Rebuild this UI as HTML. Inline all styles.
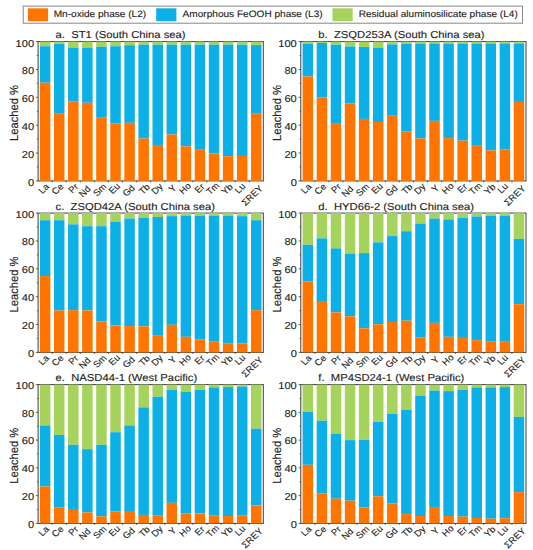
<!DOCTYPE html>
<html><head><meta charset="utf-8"><title>chart</title>
<style>
html,body{margin:0;padding:0;background:#fff;}
svg{display:block;}
text{font-family:"Liberation Sans",sans-serif;font-size:10.4px;fill:#222;stroke:#222;stroke-width:0.12px;text-rendering:geometricPrecision;}
</style></head><body>
<svg width="533" height="550" viewBox="0 0 533 550">
<rect width="533" height="550" fill="#fff"/>
<rect x="23.2" y="6.1" width="499.3" height="17.1" fill="#fff" stroke="#888" stroke-width="1"/>
<rect x="27.9" y="8.3" width="20.2" height="12.9" fill="#FF7500"/>
<text transform="translate(53.70,17.20) scale(1.075,1)" text-anchor="start" style="font-size:9.4px" id="leg27">Mn-oxide phase (L2)</text>
<rect x="156.2" y="8.3" width="20.2" height="12.9" fill="#0DB0E6"/>
<text transform="translate(182.60,17.20) scale(1.075,1)" text-anchor="start" style="font-size:9.4px" id="leg156">Amorphous FeOOH phase (L3)</text>
<rect x="332.5" y="8.3" width="20.2" height="12.9" fill="#A6D35C"/>
<text transform="translate(358.70,17.20) scale(1.075,1)" text-anchor="start" style="font-size:9.4px" id="leg332">Residual aluminosilicate phase (L4)</text>
<g><rect x="38.1" y="41.6" width="225.2" height="139.3" fill="none" stroke="#3c3c3c" stroke-width="1"/><rect x="39.89" y="41.60" width="10.5" height="4.60" fill="#A6D35C"/><rect x="39.89" y="46.20" width="10.5" height="36.50" fill="#0DB0E6"/><rect x="39.89" y="82.69" width="10.5" height="98.21" fill="#FF7500"/><text transform="translate(49.64,187.10) scale(1.06,1) rotate(-45)" text-anchor="end" style="font-size:9.0px" >La</text><rect x="53.96" y="41.60" width="10.5" height="2.23" fill="#A6D35C"/><rect x="53.96" y="43.83" width="10.5" height="69.93" fill="#0DB0E6"/><rect x="53.96" y="113.76" width="10.5" height="67.14" fill="#FF7500"/><text transform="translate(64.21,187.10) scale(1.06,1) rotate(-45)" text-anchor="end" style="font-size:9.0px" >Ce</text><rect x="68.04" y="41.60" width="10.5" height="5.99" fill="#A6D35C"/><rect x="68.04" y="47.59" width="10.5" height="54.05" fill="#0DB0E6"/><rect x="68.04" y="101.64" width="10.5" height="79.26" fill="#FF7500"/><text transform="translate(78.99,187.50) scale(1.06,1) rotate(-45)" text-anchor="end" style="font-size:9.0px" >Pr</text><rect x="82.11" y="41.60" width="10.5" height="5.99" fill="#A6D35C"/><rect x="82.11" y="47.59" width="10.5" height="55.16" fill="#0DB0E6"/><rect x="82.11" y="102.75" width="10.5" height="78.15" fill="#FF7500"/><text transform="translate(91.36,189.50) scale(1.06,1) rotate(-45)" text-anchor="end" style="font-size:9.0px" >Nd</text><rect x="96.19" y="41.60" width="10.5" height="5.15" fill="#A6D35C"/><rect x="96.19" y="46.75" width="10.5" height="71.04" fill="#0DB0E6"/><rect x="96.19" y="117.80" width="10.5" height="63.10" fill="#FF7500"/><text transform="translate(107.14,187.10) scale(1.06,1) rotate(-45)" text-anchor="end" style="font-size:9.0px" >Sm</text><rect x="110.26" y="41.60" width="10.5" height="4.60" fill="#A6D35C"/><rect x="110.26" y="46.20" width="10.5" height="77.45" fill="#0DB0E6"/><rect x="110.26" y="123.65" width="10.5" height="57.25" fill="#FF7500"/><text transform="translate(120.71,186.60) scale(1.06,1) rotate(-45)" text-anchor="end" style="font-size:9.0px" >Eu</text><rect x="124.34" y="41.60" width="10.5" height="3.62" fill="#A6D35C"/><rect x="124.34" y="45.22" width="10.5" height="77.59" fill="#0DB0E6"/><rect x="124.34" y="122.81" width="10.5" height="58.09" fill="#FF7500"/><text transform="translate(135.59,188.60) scale(1.06,1) rotate(-45)" text-anchor="end" style="font-size:9.0px" >Gd</text><rect x="138.41" y="41.60" width="10.5" height="3.06" fill="#A6D35C"/><rect x="138.41" y="44.66" width="10.5" height="93.75" fill="#0DB0E6"/><rect x="138.41" y="138.41" width="10.5" height="42.49" fill="#FF7500"/><text transform="translate(150.56,187.50) scale(1.06,1) rotate(-45)" text-anchor="end" style="font-size:9.0px" >Tb</text><rect x="152.49" y="41.60" width="10.5" height="3.06" fill="#A6D35C"/><rect x="152.49" y="44.66" width="10.5" height="100.30" fill="#0DB0E6"/><rect x="152.49" y="144.96" width="10.5" height="35.94" fill="#FF7500"/><text transform="translate(163.44,187.10) scale(1.06,1) rotate(-45)" text-anchor="end" style="font-size:9.0px" >Dy</text><rect x="166.56" y="41.60" width="10.5" height="3.06" fill="#A6D35C"/><rect x="166.56" y="44.66" width="10.5" height="89.85" fill="#0DB0E6"/><rect x="166.56" y="134.51" width="10.5" height="46.39" fill="#FF7500"/><text transform="translate(177.01,188.60) scale(1.06,1) rotate(-45)" text-anchor="end" style="font-size:9.0px" >Y</text><rect x="180.64" y="41.60" width="10.5" height="3.06" fill="#A6D35C"/><rect x="180.64" y="44.66" width="10.5" height="101.69" fill="#0DB0E6"/><rect x="180.64" y="146.35" width="10.5" height="34.55" fill="#FF7500"/><text transform="translate(191.69,186.50) scale(1.06,1) rotate(-45)" text-anchor="end" style="font-size:9.0px" >Ho</text><rect x="194.71" y="41.60" width="10.5" height="3.06" fill="#A6D35C"/><rect x="194.71" y="44.66" width="10.5" height="104.47" fill="#0DB0E6"/><rect x="194.71" y="149.14" width="10.5" height="31.76" fill="#FF7500"/><text transform="translate(205.26,187.40) scale(1.06,1) rotate(-45)" text-anchor="end" style="font-size:9.0px" >Er</text><rect x="208.79" y="41.60" width="10.5" height="3.06" fill="#A6D35C"/><rect x="208.79" y="44.66" width="10.5" height="108.79" fill="#0DB0E6"/><rect x="208.79" y="153.46" width="10.5" height="27.44" fill="#FF7500"/><text transform="translate(219.84,186.10) scale(1.06,1) rotate(-45)" text-anchor="end" style="font-size:9.0px" >Tm</text><rect x="222.86" y="41.60" width="10.5" height="3.06" fill="#A6D35C"/><rect x="222.86" y="44.66" width="10.5" height="111.58" fill="#0DB0E6"/><rect x="222.86" y="156.24" width="10.5" height="24.66" fill="#FF7500"/><text transform="translate(233.61,187.50) scale(1.06,1) rotate(-45)" text-anchor="end" style="font-size:9.0px" >Yb</text><rect x="236.94" y="41.60" width="10.5" height="3.06" fill="#A6D35C"/><rect x="236.94" y="44.66" width="10.5" height="111.30" fill="#0DB0E6"/><rect x="236.94" y="155.97" width="10.5" height="24.93" fill="#FF7500"/><text transform="translate(245.99,186.80) scale(1.06,1) rotate(-45)" text-anchor="end" style="font-size:9.0px" >Lu</text><rect x="251.01" y="41.60" width="10.5" height="3.48" fill="#A6D35C"/><rect x="251.01" y="45.08" width="10.5" height="68.67" fill="#0DB0E6"/><rect x="251.01" y="113.76" width="10.5" height="67.14" fill="#FF7500"/><text transform="translate(263.46,189.10) scale(1.06,1) rotate(-45)" text-anchor="end" style="font-size:9.0px" >ΣREY</text><text transform="translate(34.10,185.80) scale(1.11,1)" text-anchor="end" style="font-size:10.0px" >0</text><text transform="translate(34.10,157.94) scale(1.11,1)" text-anchor="end" style="font-size:10.0px" >20</text><text transform="translate(34.10,130.08) scale(1.11,1)" text-anchor="end" style="font-size:10.0px" >40</text><text transform="translate(34.10,102.22) scale(1.11,1)" text-anchor="end" style="font-size:10.0px" >60</text><text transform="translate(34.10,74.36) scale(1.11,1)" text-anchor="end" style="font-size:10.0px" >80</text><text transform="translate(34.10,46.50) scale(1.11,1)" text-anchor="end" style="font-size:10.0px" >100</text><path d="M35.90,180.90H38.1 M36.90,166.97H38.1 M35.90,153.04H38.1 M36.90,139.11H38.1 M35.90,125.18H38.1 M36.90,111.25H38.1 M35.90,97.32H38.1 M36.90,83.39H38.1 M35.90,69.46H38.1 M36.90,55.53H38.1 M35.90,41.60H38.1 M52.17,180.9v1.5 M66.25,180.9v1.5 M80.32,180.9v1.5 M94.40,180.9v1.5 M108.47,180.9v1.5 M122.55,180.9v1.5 M136.62,180.9v1.5 M150.70,180.9v1.5 M164.78,180.9v1.5 M178.85,180.9v1.5 M192.92,180.9v1.5 M207.00,180.9v1.5 M221.07,180.9v1.5 M235.15,180.9v1.5 M249.22,180.9v1.5" stroke="#3c3c3c" stroke-width="0.8" fill="none"/><text transform="translate(55.60,38.10) scale(1.114,1)" text-anchor="start" style="font-size:10.1px" id="ta" xml:space="preserve">a.  ST1 (South China sea)</text><text transform="translate(18.20,113.05) scale(1.06,1) rotate(-90)" text-anchor="middle" style="font-size:11.2px" >Leached %</text></g>
<g><rect x="300.8" y="41.6" width="225.2" height="139.3" fill="none" stroke="#3c3c3c" stroke-width="1"/><rect x="302.59" y="41.60" width="10.5" height="1.95" fill="#A6D35C"/><rect x="302.59" y="43.55" width="10.5" height="32.87" fill="#0DB0E6"/><rect x="302.59" y="76.43" width="10.5" height="104.47" fill="#FF7500"/><text transform="translate(312.34,187.10) scale(1.06,1) rotate(-45)" text-anchor="end" style="font-size:9.0px" >La</text><rect x="316.66" y="41.60" width="10.5" height="1.39" fill="#A6D35C"/><rect x="316.66" y="42.99" width="10.5" height="54.33" fill="#0DB0E6"/><rect x="316.66" y="97.32" width="10.5" height="83.58" fill="#FF7500"/><text transform="translate(326.91,187.10) scale(1.06,1) rotate(-45)" text-anchor="end" style="font-size:9.0px" >Ce</text><rect x="330.74" y="41.60" width="10.5" height="3.06" fill="#A6D35C"/><rect x="330.74" y="44.66" width="10.5" height="78.43" fill="#0DB0E6"/><rect x="330.74" y="123.09" width="10.5" height="57.81" fill="#FF7500"/><text transform="translate(341.69,187.50) scale(1.06,1) rotate(-45)" text-anchor="end" style="font-size:9.0px" >Pr</text><rect x="344.81" y="41.60" width="10.5" height="4.88" fill="#A6D35C"/><rect x="344.81" y="46.48" width="10.5" height="57.11" fill="#0DB0E6"/><rect x="344.81" y="103.59" width="10.5" height="77.31" fill="#FF7500"/><text transform="translate(354.06,189.50) scale(1.06,1) rotate(-45)" text-anchor="end" style="font-size:9.0px" >Nd</text><rect x="358.89" y="41.60" width="10.5" height="5.43" fill="#A6D35C"/><rect x="358.89" y="47.03" width="10.5" height="71.88" fill="#0DB0E6"/><rect x="358.89" y="118.91" width="10.5" height="61.99" fill="#FF7500"/><text transform="translate(369.84,187.10) scale(1.06,1) rotate(-45)" text-anchor="end" style="font-size:9.0px" >Sm</text><rect x="372.96" y="41.60" width="10.5" height="5.99" fill="#A6D35C"/><rect x="372.96" y="47.59" width="10.5" height="74.39" fill="#0DB0E6"/><rect x="372.96" y="121.98" width="10.5" height="58.92" fill="#FF7500"/><text transform="translate(383.41,186.60) scale(1.06,1) rotate(-45)" text-anchor="end" style="font-size:9.0px" >Eu</text><rect x="387.04" y="41.60" width="10.5" height="2.79" fill="#A6D35C"/><rect x="387.04" y="44.39" width="10.5" height="70.76" fill="#0DB0E6"/><rect x="387.04" y="115.15" width="10.5" height="65.75" fill="#FF7500"/><text transform="translate(398.29,188.60) scale(1.06,1) rotate(-45)" text-anchor="end" style="font-size:9.0px" >Gd</text><rect x="401.11" y="41.60" width="10.5" height="2.23" fill="#A6D35C"/><rect x="401.11" y="43.83" width="10.5" height="87.76" fill="#0DB0E6"/><rect x="401.11" y="131.59" width="10.5" height="49.31" fill="#FF7500"/><text transform="translate(413.26,187.50) scale(1.06,1) rotate(-45)" text-anchor="end" style="font-size:9.0px" >Tb</text><rect x="415.19" y="41.60" width="10.5" height="1.95" fill="#A6D35C"/><rect x="415.19" y="43.55" width="10.5" height="94.86" fill="#0DB0E6"/><rect x="415.19" y="138.41" width="10.5" height="42.49" fill="#FF7500"/><text transform="translate(426.14,187.10) scale(1.06,1) rotate(-45)" text-anchor="end" style="font-size:9.0px" >Dy</text><rect x="429.26" y="41.60" width="10.5" height="1.95" fill="#A6D35C"/><rect x="429.26" y="43.55" width="10.5" height="77.31" fill="#0DB0E6"/><rect x="429.26" y="120.86" width="10.5" height="60.04" fill="#FF7500"/><text transform="translate(439.71,188.60) scale(1.06,1) rotate(-45)" text-anchor="end" style="font-size:9.0px" >Y</text><rect x="443.34" y="41.60" width="10.5" height="1.95" fill="#A6D35C"/><rect x="443.34" y="43.55" width="10.5" height="94.58" fill="#0DB0E6"/><rect x="443.34" y="138.13" width="10.5" height="42.77" fill="#FF7500"/><text transform="translate(454.39,186.50) scale(1.06,1) rotate(-45)" text-anchor="end" style="font-size:9.0px" >Ho</text><rect x="457.41" y="41.60" width="10.5" height="1.95" fill="#A6D35C"/><rect x="457.41" y="43.55" width="10.5" height="97.09" fill="#0DB0E6"/><rect x="457.41" y="140.64" width="10.5" height="40.26" fill="#FF7500"/><text transform="translate(467.96,187.40) scale(1.06,1) rotate(-45)" text-anchor="end" style="font-size:9.0px" >Er</text><rect x="471.49" y="41.60" width="10.5" height="1.95" fill="#A6D35C"/><rect x="471.49" y="43.55" width="10.5" height="102.25" fill="#0DB0E6"/><rect x="471.49" y="145.80" width="10.5" height="35.10" fill="#FF7500"/><text transform="translate(482.54,186.10) scale(1.06,1) rotate(-45)" text-anchor="end" style="font-size:9.0px" >Tm</text><rect x="485.56" y="41.60" width="10.5" height="1.95" fill="#A6D35C"/><rect x="485.56" y="43.55" width="10.5" height="106.84" fill="#0DB0E6"/><rect x="485.56" y="150.39" width="10.5" height="30.51" fill="#FF7500"/><text transform="translate(496.31,187.50) scale(1.06,1) rotate(-45)" text-anchor="end" style="font-size:9.0px" >Yb</text><rect x="499.64" y="41.60" width="10.5" height="1.95" fill="#A6D35C"/><rect x="499.64" y="43.55" width="10.5" height="106.15" fill="#0DB0E6"/><rect x="499.64" y="149.70" width="10.5" height="31.20" fill="#FF7500"/><text transform="translate(508.69,186.80) scale(1.06,1) rotate(-45)" text-anchor="end" style="font-size:9.0px" >Lu</text><rect x="513.71" y="41.60" width="10.5" height="1.95" fill="#A6D35C"/><rect x="513.71" y="43.55" width="10.5" height="58.37" fill="#0DB0E6"/><rect x="513.71" y="101.92" width="10.5" height="78.98" fill="#FF7500"/><text transform="translate(526.16,189.10) scale(1.06,1) rotate(-45)" text-anchor="end" style="font-size:9.0px" >ΣREY</text><text transform="translate(296.80,185.80) scale(1.11,1)" text-anchor="end" style="font-size:10.0px" >0</text><text transform="translate(296.80,157.94) scale(1.11,1)" text-anchor="end" style="font-size:10.0px" >20</text><text transform="translate(296.80,130.08) scale(1.11,1)" text-anchor="end" style="font-size:10.0px" >40</text><text transform="translate(296.80,102.22) scale(1.11,1)" text-anchor="end" style="font-size:10.0px" >60</text><text transform="translate(296.80,74.36) scale(1.11,1)" text-anchor="end" style="font-size:10.0px" >80</text><text transform="translate(296.80,46.50) scale(1.11,1)" text-anchor="end" style="font-size:10.0px" >100</text><path d="M298.60,180.90H300.8 M299.60,166.97H300.8 M298.60,153.04H300.8 M299.60,139.11H300.8 M298.60,125.18H300.8 M299.60,111.25H300.8 M298.60,97.32H300.8 M299.60,83.39H300.8 M298.60,69.46H300.8 M299.60,55.53H300.8 M298.60,41.60H300.8 M314.88,180.9v1.5 M328.95,180.9v1.5 M343.02,180.9v1.5 M357.10,180.9v1.5 M371.18,180.9v1.5 M385.25,180.9v1.5 M399.32,180.9v1.5 M413.40,180.9v1.5 M427.48,180.9v1.5 M441.55,180.9v1.5 M455.62,180.9v1.5 M469.70,180.9v1.5 M483.77,180.9v1.5 M497.85,180.9v1.5 M511.93,180.9v1.5" stroke="#3c3c3c" stroke-width="0.8" fill="none"/><text transform="translate(318.30,38.10) scale(1.114,1)" text-anchor="start" style="font-size:10.1px" id="tb" xml:space="preserve">b.  ZSQD253A (South China sea)</text><text transform="translate(280.90,113.05) scale(1.06,1) rotate(-90)" text-anchor="middle" style="font-size:11.2px" >Leached %</text></g>
<g><rect x="38.1" y="213.1" width="225.2" height="139.3" fill="none" stroke="#3c3c3c" stroke-width="1"/><rect x="39.89" y="213.10" width="10.5" height="7.10" fill="#A6D35C"/><rect x="39.89" y="220.20" width="10.5" height="55.86" fill="#0DB0E6"/><rect x="39.89" y="276.06" width="10.5" height="76.34" fill="#FF7500"/><text transform="translate(49.64,358.60) scale(1.06,1) rotate(-45)" text-anchor="end" style="font-size:9.0px" >La</text><rect x="53.96" y="213.10" width="10.5" height="7.10" fill="#A6D35C"/><rect x="53.96" y="220.20" width="10.5" height="90.27" fill="#0DB0E6"/><rect x="53.96" y="310.47" width="10.5" height="41.93" fill="#FF7500"/><text transform="translate(64.21,358.60) scale(1.06,1) rotate(-45)" text-anchor="end" style="font-size:9.0px" >Ce</text><rect x="68.04" y="213.10" width="10.5" height="11.28" fill="#A6D35C"/><rect x="68.04" y="224.38" width="10.5" height="85.81" fill="#0DB0E6"/><rect x="68.04" y="310.19" width="10.5" height="42.21" fill="#FF7500"/><text transform="translate(78.99,359.00) scale(1.06,1) rotate(-45)" text-anchor="end" style="font-size:9.0px" >Pr</text><rect x="82.11" y="213.10" width="10.5" height="13.09" fill="#A6D35C"/><rect x="82.11" y="226.19" width="10.5" height="84.28" fill="#0DB0E6"/><rect x="82.11" y="310.47" width="10.5" height="41.93" fill="#FF7500"/><text transform="translate(91.36,361.00) scale(1.06,1) rotate(-45)" text-anchor="end" style="font-size:9.0px" >Nd</text><rect x="96.19" y="213.10" width="10.5" height="13.09" fill="#A6D35C"/><rect x="96.19" y="226.19" width="10.5" height="95.28" fill="#0DB0E6"/><rect x="96.19" y="321.48" width="10.5" height="30.92" fill="#FF7500"/><text transform="translate(107.14,358.60) scale(1.06,1) rotate(-45)" text-anchor="end" style="font-size:9.0px" >Sm</text><rect x="110.26" y="213.10" width="10.5" height="8.50" fill="#A6D35C"/><rect x="110.26" y="221.60" width="10.5" height="103.92" fill="#0DB0E6"/><rect x="110.26" y="325.52" width="10.5" height="26.88" fill="#FF7500"/><text transform="translate(120.71,358.10) scale(1.06,1) rotate(-45)" text-anchor="end" style="font-size:9.0px" >Eu</text><rect x="124.34" y="213.10" width="10.5" height="5.43" fill="#A6D35C"/><rect x="124.34" y="218.53" width="10.5" height="107.54" fill="#0DB0E6"/><rect x="124.34" y="326.07" width="10.5" height="26.33" fill="#FF7500"/><text transform="translate(135.59,360.10) scale(1.06,1) rotate(-45)" text-anchor="end" style="font-size:9.0px" >Gd</text><rect x="138.41" y="213.10" width="10.5" height="4.60" fill="#A6D35C"/><rect x="138.41" y="217.70" width="10.5" height="108.65" fill="#0DB0E6"/><rect x="138.41" y="326.35" width="10.5" height="26.05" fill="#FF7500"/><text transform="translate(150.56,359.00) scale(1.06,1) rotate(-45)" text-anchor="end" style="font-size:9.0px" >Tb</text><rect x="152.49" y="213.10" width="10.5" height="3.90" fill="#A6D35C"/><rect x="152.49" y="217.00" width="10.5" height="118.13" fill="#0DB0E6"/><rect x="152.49" y="335.13" width="10.5" height="17.27" fill="#FF7500"/><text transform="translate(163.44,358.60) scale(1.06,1) rotate(-45)" text-anchor="end" style="font-size:9.0px" >Dy</text><rect x="166.56" y="213.10" width="10.5" height="3.06" fill="#A6D35C"/><rect x="166.56" y="216.16" width="10.5" height="108.65" fill="#0DB0E6"/><rect x="166.56" y="324.82" width="10.5" height="27.58" fill="#FF7500"/><text transform="translate(177.01,360.10) scale(1.06,1) rotate(-45)" text-anchor="end" style="font-size:9.0px" >Y</text><rect x="180.64" y="213.10" width="10.5" height="2.51" fill="#A6D35C"/><rect x="180.64" y="215.61" width="10.5" height="121.19" fill="#0DB0E6"/><rect x="180.64" y="336.80" width="10.5" height="15.60" fill="#FF7500"/><text transform="translate(191.69,358.00) scale(1.06,1) rotate(-45)" text-anchor="end" style="font-size:9.0px" >Ho</text><rect x="194.71" y="213.10" width="10.5" height="2.51" fill="#A6D35C"/><rect x="194.71" y="215.61" width="10.5" height="123.70" fill="#0DB0E6"/><rect x="194.71" y="339.31" width="10.5" height="13.09" fill="#FF7500"/><text transform="translate(205.26,358.90) scale(1.06,1) rotate(-45)" text-anchor="end" style="font-size:9.0px" >Er</text><rect x="208.79" y="213.10" width="10.5" height="2.51" fill="#A6D35C"/><rect x="208.79" y="215.61" width="10.5" height="126.07" fill="#0DB0E6"/><rect x="208.79" y="341.67" width="10.5" height="10.73" fill="#FF7500"/><text transform="translate(219.84,357.60) scale(1.06,1) rotate(-45)" text-anchor="end" style="font-size:9.0px" >Tm</text><rect x="222.86" y="213.10" width="10.5" height="2.51" fill="#A6D35C"/><rect x="222.86" y="215.61" width="10.5" height="128.02" fill="#0DB0E6"/><rect x="222.86" y="343.62" width="10.5" height="8.78" fill="#FF7500"/><text transform="translate(233.61,359.00) scale(1.06,1) rotate(-45)" text-anchor="end" style="font-size:9.0px" >Yb</text><rect x="236.94" y="213.10" width="10.5" height="3.06" fill="#A6D35C"/><rect x="236.94" y="216.16" width="10.5" height="127.18" fill="#0DB0E6"/><rect x="236.94" y="343.35" width="10.5" height="9.05" fill="#FF7500"/><text transform="translate(245.99,358.30) scale(1.06,1) rotate(-45)" text-anchor="end" style="font-size:9.0px" >Lu</text><rect x="251.01" y="213.10" width="10.5" height="7.10" fill="#A6D35C"/><rect x="251.01" y="220.20" width="10.5" height="89.99" fill="#0DB0E6"/><rect x="251.01" y="310.19" width="10.5" height="42.21" fill="#FF7500"/><text transform="translate(263.46,360.60) scale(1.06,1) rotate(-45)" text-anchor="end" style="font-size:9.0px" >ΣREY</text><text transform="translate(34.10,356.80) scale(1.11,1)" text-anchor="end" style="font-size:10.0px" >0</text><text transform="translate(34.10,328.94) scale(1.11,1)" text-anchor="end" style="font-size:10.0px" >20</text><text transform="translate(34.10,301.08) scale(1.11,1)" text-anchor="end" style="font-size:10.0px" >40</text><text transform="translate(34.10,273.22) scale(1.11,1)" text-anchor="end" style="font-size:10.0px" >60</text><text transform="translate(34.10,245.36) scale(1.11,1)" text-anchor="end" style="font-size:10.0px" >80</text><text transform="translate(34.10,217.50) scale(1.11,1)" text-anchor="end" style="font-size:10.0px" >100</text><path d="M35.90,352.40H38.1 M36.90,338.47H38.1 M35.90,324.54H38.1 M36.90,310.61H38.1 M35.90,296.68H38.1 M36.90,282.75H38.1 M35.90,268.82H38.1 M36.90,254.89H38.1 M35.90,240.96H38.1 M36.90,227.03H38.1 M35.90,213.10H38.1 M52.17,352.4v1.5 M66.25,352.4v1.5 M80.32,352.4v1.5 M94.40,352.4v1.5 M108.47,352.4v1.5 M122.55,352.4v1.5 M136.62,352.4v1.5 M150.70,352.4v1.5 M164.78,352.4v1.5 M178.85,352.4v1.5 M192.92,352.4v1.5 M207.00,352.4v1.5 M221.07,352.4v1.5 M235.15,352.4v1.5 M249.22,352.4v1.5" stroke="#3c3c3c" stroke-width="0.8" fill="none"/><text transform="translate(55.60,209.60) scale(1.114,1)" text-anchor="start" style="font-size:10.1px" id="tc" xml:space="preserve">c.  ZSQD42A (South China sea)</text><text transform="translate(18.20,284.55) scale(1.06,1) rotate(-90)" text-anchor="middle" style="font-size:11.2px" >Leached %</text></g>
<g><rect x="300.8" y="213.1" width="225.2" height="139.3" fill="none" stroke="#3c3c3c" stroke-width="1"/><rect x="302.59" y="213.10" width="10.5" height="31.76" fill="#A6D35C"/><rect x="302.59" y="244.86" width="10.5" height="36.64" fill="#0DB0E6"/><rect x="302.59" y="281.50" width="10.5" height="70.90" fill="#FF7500"/><text transform="translate(312.34,358.60) scale(1.06,1) rotate(-45)" text-anchor="end" style="font-size:9.0px" >La</text><rect x="316.66" y="213.10" width="10.5" height="25.21" fill="#A6D35C"/><rect x="316.66" y="238.31" width="10.5" height="62.69" fill="#0DB0E6"/><rect x="316.66" y="301.00" width="10.5" height="51.40" fill="#FF7500"/><text transform="translate(326.91,358.60) scale(1.06,1) rotate(-45)" text-anchor="end" style="font-size:9.0px" >Ce</text><rect x="330.74" y="213.10" width="10.5" height="35.24" fill="#A6D35C"/><rect x="330.74" y="248.34" width="10.5" height="64.08" fill="#0DB0E6"/><rect x="330.74" y="312.42" width="10.5" height="39.98" fill="#FF7500"/><text transform="translate(341.69,359.00) scale(1.06,1) rotate(-45)" text-anchor="end" style="font-size:9.0px" >Pr</text><rect x="344.81" y="213.10" width="10.5" height="40.54" fill="#A6D35C"/><rect x="344.81" y="253.64" width="10.5" height="62.69" fill="#0DB0E6"/><rect x="344.81" y="316.32" width="10.5" height="36.08" fill="#FF7500"/><text transform="translate(354.06,361.00) scale(1.06,1) rotate(-45)" text-anchor="end" style="font-size:9.0px" >Nd</text><rect x="358.89" y="213.10" width="10.5" height="39.98" fill="#A6D35C"/><rect x="358.89" y="253.08" width="10.5" height="75.22" fill="#0DB0E6"/><rect x="358.89" y="328.30" width="10.5" height="24.10" fill="#FF7500"/><text transform="translate(369.84,358.60) scale(1.06,1) rotate(-45)" text-anchor="end" style="font-size:9.0px" >Sm</text><rect x="372.96" y="213.10" width="10.5" height="29.25" fill="#A6D35C"/><rect x="372.96" y="242.35" width="10.5" height="81.91" fill="#0DB0E6"/><rect x="372.96" y="324.26" width="10.5" height="28.14" fill="#FF7500"/><text transform="translate(383.41,358.10) scale(1.06,1) rotate(-45)" text-anchor="end" style="font-size:9.0px" >Eu</text><rect x="387.04" y="213.10" width="10.5" height="22.98" fill="#A6D35C"/><rect x="387.04" y="236.08" width="10.5" height="85.95" fill="#0DB0E6"/><rect x="387.04" y="322.03" width="10.5" height="30.37" fill="#FF7500"/><text transform="translate(398.29,360.10) scale(1.06,1) rotate(-45)" text-anchor="end" style="font-size:9.0px" >Gd</text><rect x="401.11" y="213.10" width="10.5" height="18.11" fill="#A6D35C"/><rect x="401.11" y="231.21" width="10.5" height="89.43" fill="#0DB0E6"/><rect x="401.11" y="320.64" width="10.5" height="31.76" fill="#FF7500"/><text transform="translate(413.26,359.00) scale(1.06,1) rotate(-45)" text-anchor="end" style="font-size:9.0px" >Tb</text><rect x="415.19" y="213.10" width="10.5" height="10.45" fill="#A6D35C"/><rect x="415.19" y="223.55" width="10.5" height="113.81" fill="#0DB0E6"/><rect x="415.19" y="337.36" width="10.5" height="15.04" fill="#FF7500"/><text transform="translate(426.14,358.60) scale(1.06,1) rotate(-45)" text-anchor="end" style="font-size:9.0px" >Dy</text><rect x="429.26" y="213.10" width="10.5" height="5.43" fill="#A6D35C"/><rect x="429.26" y="218.53" width="10.5" height="104.34" fill="#0DB0E6"/><rect x="429.26" y="322.87" width="10.5" height="29.53" fill="#FF7500"/><text transform="translate(439.71,360.10) scale(1.06,1) rotate(-45)" text-anchor="end" style="font-size:9.0px" >Y</text><rect x="443.34" y="213.10" width="10.5" height="6.27" fill="#A6D35C"/><rect x="443.34" y="219.37" width="10.5" height="117.43" fill="#0DB0E6"/><rect x="443.34" y="336.80" width="10.5" height="15.60" fill="#FF7500"/><text transform="translate(454.39,358.00) scale(1.06,1) rotate(-45)" text-anchor="end" style="font-size:9.0px" >Ho</text><rect x="457.41" y="213.10" width="10.5" height="4.88" fill="#A6D35C"/><rect x="457.41" y="217.98" width="10.5" height="119.94" fill="#0DB0E6"/><rect x="457.41" y="337.91" width="10.5" height="14.49" fill="#FF7500"/><text transform="translate(467.96,358.90) scale(1.06,1) rotate(-45)" text-anchor="end" style="font-size:9.0px" >Er</text><rect x="471.49" y="213.10" width="10.5" height="3.34" fill="#A6D35C"/><rect x="471.49" y="216.44" width="10.5" height="123.70" fill="#0DB0E6"/><rect x="471.49" y="340.14" width="10.5" height="12.26" fill="#FF7500"/><text transform="translate(482.54,357.60) scale(1.06,1) rotate(-45)" text-anchor="end" style="font-size:9.0px" >Tm</text><rect x="485.56" y="213.10" width="10.5" height="2.79" fill="#A6D35C"/><rect x="485.56" y="215.89" width="10.5" height="125.79" fill="#0DB0E6"/><rect x="485.56" y="341.67" width="10.5" height="10.73" fill="#FF7500"/><text transform="translate(496.31,359.00) scale(1.06,1) rotate(-45)" text-anchor="end" style="font-size:9.0px" >Yb</text><rect x="499.64" y="213.10" width="10.5" height="2.79" fill="#A6D35C"/><rect x="499.64" y="215.89" width="10.5" height="125.23" fill="#0DB0E6"/><rect x="499.64" y="341.12" width="10.5" height="11.28" fill="#FF7500"/><text transform="translate(508.69,358.30) scale(1.06,1) rotate(-45)" text-anchor="end" style="font-size:9.0px" >Lu</text><rect x="513.71" y="213.10" width="10.5" height="25.77" fill="#A6D35C"/><rect x="513.71" y="238.87" width="10.5" height="65.33" fill="#0DB0E6"/><rect x="513.71" y="304.20" width="10.5" height="48.20" fill="#FF7500"/><text transform="translate(526.16,360.60) scale(1.06,1) rotate(-45)" text-anchor="end" style="font-size:9.0px" >ΣREY</text><text transform="translate(296.80,356.80) scale(1.11,1)" text-anchor="end" style="font-size:10.0px" >0</text><text transform="translate(296.80,328.94) scale(1.11,1)" text-anchor="end" style="font-size:10.0px" >20</text><text transform="translate(296.80,301.08) scale(1.11,1)" text-anchor="end" style="font-size:10.0px" >40</text><text transform="translate(296.80,273.22) scale(1.11,1)" text-anchor="end" style="font-size:10.0px" >60</text><text transform="translate(296.80,245.36) scale(1.11,1)" text-anchor="end" style="font-size:10.0px" >80</text><text transform="translate(296.80,217.50) scale(1.11,1)" text-anchor="end" style="font-size:10.0px" >100</text><path d="M298.60,352.40H300.8 M299.60,338.47H300.8 M298.60,324.54H300.8 M299.60,310.61H300.8 M298.60,296.68H300.8 M299.60,282.75H300.8 M298.60,268.82H300.8 M299.60,254.89H300.8 M298.60,240.96H300.8 M299.60,227.03H300.8 M298.60,213.10H300.8 M314.88,352.4v1.5 M328.95,352.4v1.5 M343.02,352.4v1.5 M357.10,352.4v1.5 M371.18,352.4v1.5 M385.25,352.4v1.5 M399.32,352.4v1.5 M413.40,352.4v1.5 M427.48,352.4v1.5 M441.55,352.4v1.5 M455.62,352.4v1.5 M469.70,352.4v1.5 M483.77,352.4v1.5 M497.85,352.4v1.5 M511.93,352.4v1.5" stroke="#3c3c3c" stroke-width="0.8" fill="none"/><text transform="translate(318.30,209.60) scale(1.114,1)" text-anchor="start" style="font-size:10.1px" id="td" xml:space="preserve">d.  HYD66-2 (South China sea)</text><text transform="translate(280.90,284.55) scale(1.06,1) rotate(-90)" text-anchor="middle" style="font-size:11.2px" >Leached %</text></g>
<g><rect x="38.1" y="384.6" width="225.2" height="138.8" fill="none" stroke="#3c3c3c" stroke-width="1"/><rect x="39.89" y="384.60" width="10.5" height="40.81" fill="#A6D35C"/><rect x="39.89" y="425.41" width="10.5" height="61.07" fill="#0DB0E6"/><rect x="39.89" y="486.48" width="10.5" height="36.92" fill="#FF7500"/><text transform="translate(49.64,529.60) scale(1.06,1) rotate(-45)" text-anchor="end" style="font-size:9.0px" >La</text><rect x="53.96" y="384.60" width="10.5" height="50.38" fill="#A6D35C"/><rect x="53.96" y="434.98" width="10.5" height="72.31" fill="#0DB0E6"/><rect x="53.96" y="507.30" width="10.5" height="16.10" fill="#FF7500"/><text transform="translate(64.21,529.60) scale(1.06,1) rotate(-45)" text-anchor="end" style="font-size:9.0px" >Ce</text><rect x="68.04" y="384.60" width="10.5" height="60.24" fill="#A6D35C"/><rect x="68.04" y="444.84" width="10.5" height="65.10" fill="#0DB0E6"/><rect x="68.04" y="509.94" width="10.5" height="13.46" fill="#FF7500"/><text transform="translate(78.99,530.00) scale(1.06,1) rotate(-45)" text-anchor="end" style="font-size:9.0px" >Pr</text><rect x="82.11" y="384.60" width="10.5" height="64.54" fill="#A6D35C"/><rect x="82.11" y="449.14" width="10.5" height="63.29" fill="#0DB0E6"/><rect x="82.11" y="512.43" width="10.5" height="10.97" fill="#FF7500"/><text transform="translate(91.36,532.00) scale(1.06,1) rotate(-45)" text-anchor="end" style="font-size:9.0px" >Nd</text><rect x="96.19" y="384.60" width="10.5" height="60.24" fill="#A6D35C"/><rect x="96.19" y="444.84" width="10.5" height="71.48" fill="#0DB0E6"/><rect x="96.19" y="516.32" width="10.5" height="7.08" fill="#FF7500"/><text transform="translate(107.14,529.60) scale(1.06,1) rotate(-45)" text-anchor="end" style="font-size:9.0px" >Sm</text><rect x="110.26" y="384.60" width="10.5" height="47.61" fill="#A6D35C"/><rect x="110.26" y="432.21" width="10.5" height="79.12" fill="#0DB0E6"/><rect x="110.26" y="511.32" width="10.5" height="12.08" fill="#FF7500"/><text transform="translate(120.71,529.10) scale(1.06,1) rotate(-45)" text-anchor="end" style="font-size:9.0px" >Eu</text><rect x="124.34" y="384.60" width="10.5" height="40.81" fill="#A6D35C"/><rect x="124.34" y="425.41" width="10.5" height="86.47" fill="#0DB0E6"/><rect x="124.34" y="511.88" width="10.5" height="11.52" fill="#FF7500"/><text transform="translate(135.59,531.10) scale(1.06,1) rotate(-45)" text-anchor="end" style="font-size:9.0px" >Gd</text><rect x="138.41" y="384.60" width="10.5" height="22.76" fill="#A6D35C"/><rect x="138.41" y="407.36" width="10.5" height="107.57" fill="#0DB0E6"/><rect x="138.41" y="514.93" width="10.5" height="8.47" fill="#FF7500"/><text transform="translate(150.56,530.00) scale(1.06,1) rotate(-45)" text-anchor="end" style="font-size:9.0px" >Tb</text><rect x="152.49" y="384.60" width="10.5" height="12.08" fill="#A6D35C"/><rect x="152.49" y="396.68" width="10.5" height="118.54" fill="#0DB0E6"/><rect x="152.49" y="515.21" width="10.5" height="8.19" fill="#FF7500"/><text transform="translate(163.44,529.60) scale(1.06,1) rotate(-45)" text-anchor="end" style="font-size:9.0px" >Dy</text><rect x="166.56" y="384.60" width="10.5" height="5.41" fill="#A6D35C"/><rect x="166.56" y="390.01" width="10.5" height="112.84" fill="#0DB0E6"/><rect x="166.56" y="502.86" width="10.5" height="20.54" fill="#FF7500"/><text transform="translate(177.01,531.10) scale(1.06,1) rotate(-45)" text-anchor="end" style="font-size:9.0px" >Y</text><rect x="180.64" y="384.60" width="10.5" height="7.36" fill="#A6D35C"/><rect x="180.64" y="391.96" width="10.5" height="121.31" fill="#0DB0E6"/><rect x="180.64" y="513.27" width="10.5" height="10.13" fill="#FF7500"/><text transform="translate(191.69,529.00) scale(1.06,1) rotate(-45)" text-anchor="end" style="font-size:9.0px" >Ho</text><rect x="194.71" y="384.60" width="10.5" height="5.41" fill="#A6D35C"/><rect x="194.71" y="390.01" width="10.5" height="123.53" fill="#0DB0E6"/><rect x="194.71" y="513.55" width="10.5" height="9.85" fill="#FF7500"/><text transform="translate(205.26,529.90) scale(1.06,1) rotate(-45)" text-anchor="end" style="font-size:9.0px" >Er</text><rect x="208.79" y="384.60" width="10.5" height="2.78" fill="#A6D35C"/><rect x="208.79" y="387.38" width="10.5" height="127.83" fill="#0DB0E6"/><rect x="208.79" y="515.21" width="10.5" height="8.19" fill="#FF7500"/><text transform="translate(219.84,528.60) scale(1.06,1) rotate(-45)" text-anchor="end" style="font-size:9.0px" >Tm</text><rect x="222.86" y="384.60" width="10.5" height="2.50" fill="#A6D35C"/><rect x="222.86" y="387.10" width="10.5" height="128.95" fill="#0DB0E6"/><rect x="222.86" y="516.04" width="10.5" height="7.36" fill="#FF7500"/><text transform="translate(233.61,530.00) scale(1.06,1) rotate(-45)" text-anchor="end" style="font-size:9.0px" >Yb</text><rect x="236.94" y="384.60" width="10.5" height="1.94" fill="#A6D35C"/><rect x="236.94" y="386.54" width="10.5" height="128.67" fill="#0DB0E6"/><rect x="236.94" y="515.21" width="10.5" height="8.19" fill="#FF7500"/><text transform="translate(245.99,529.30) scale(1.06,1) rotate(-45)" text-anchor="end" style="font-size:9.0px" >Lu</text><rect x="251.01" y="384.60" width="10.5" height="44.14" fill="#A6D35C"/><rect x="251.01" y="428.74" width="10.5" height="76.62" fill="#0DB0E6"/><rect x="251.01" y="505.36" width="10.5" height="18.04" fill="#FF7500"/><text transform="translate(263.46,531.60) scale(1.06,1) rotate(-45)" text-anchor="end" style="font-size:9.0px" >ΣREY</text><text transform="translate(34.10,527.60) scale(1.11,1)" text-anchor="end" style="font-size:10.0px" >0</text><text transform="translate(34.10,499.84) scale(1.11,1)" text-anchor="end" style="font-size:10.0px" >20</text><text transform="translate(34.10,472.08) scale(1.11,1)" text-anchor="end" style="font-size:10.0px" >40</text><text transform="translate(34.10,444.32) scale(1.11,1)" text-anchor="end" style="font-size:10.0px" >60</text><text transform="translate(34.10,416.56) scale(1.11,1)" text-anchor="end" style="font-size:10.0px" >80</text><text transform="translate(34.10,388.80) scale(1.11,1)" text-anchor="end" style="font-size:10.0px" >100</text><path d="M35.90,523.40H38.1 M36.90,509.52H38.1 M35.90,495.64H38.1 M36.90,481.76H38.1 M35.90,467.88H38.1 M36.90,454.00H38.1 M35.90,440.12H38.1 M36.90,426.24H38.1 M35.90,412.36H38.1 M36.90,398.48H38.1 M35.90,384.60H38.1 M52.17,523.4000000000001v1.5 M66.25,523.4000000000001v1.5 M80.32,523.4000000000001v1.5 M94.40,523.4000000000001v1.5 M108.47,523.4000000000001v1.5 M122.55,523.4000000000001v1.5 M136.62,523.4000000000001v1.5 M150.70,523.4000000000001v1.5 M164.78,523.4000000000001v1.5 M178.85,523.4000000000001v1.5 M192.92,523.4000000000001v1.5 M207.00,523.4000000000001v1.5 M221.07,523.4000000000001v1.5 M235.15,523.4000000000001v1.5 M249.22,523.4000000000001v1.5" stroke="#3c3c3c" stroke-width="0.8" fill="none"/><text transform="translate(55.60,381.10) scale(1.114,1)" text-anchor="start" style="font-size:10.1px" id="te" xml:space="preserve">e.  NASD44-1 (West Pacific)</text><text transform="translate(18.20,455.80) scale(1.06,1) rotate(-90)" text-anchor="middle" style="font-size:11.2px" >Leached %</text></g>
<g><rect x="300.8" y="384.6" width="225.2" height="138.8" fill="none" stroke="#3c3c3c" stroke-width="1"/><rect x="302.59" y="384.60" width="10.5" height="27.34" fill="#A6D35C"/><rect x="302.59" y="411.94" width="10.5" height="52.88" fill="#0DB0E6"/><rect x="302.59" y="464.83" width="10.5" height="58.57" fill="#FF7500"/><text transform="translate(312.34,529.60) scale(1.06,1) rotate(-45)" text-anchor="end" style="font-size:9.0px" >La</text><rect x="316.66" y="384.60" width="10.5" height="36.09" fill="#A6D35C"/><rect x="316.66" y="420.69" width="10.5" height="72.59" fill="#0DB0E6"/><rect x="316.66" y="493.28" width="10.5" height="30.12" fill="#FF7500"/><text transform="translate(326.91,529.60) scale(1.06,1) rotate(-45)" text-anchor="end" style="font-size:9.0px" >Ce</text><rect x="330.74" y="384.60" width="10.5" height="49.00" fill="#A6D35C"/><rect x="330.74" y="433.60" width="10.5" height="65.10" fill="#0DB0E6"/><rect x="330.74" y="498.69" width="10.5" height="24.71" fill="#FF7500"/><text transform="translate(341.69,530.00) scale(1.06,1) rotate(-45)" text-anchor="end" style="font-size:9.0px" >Pr</text><rect x="344.81" y="384.60" width="10.5" height="55.52" fill="#A6D35C"/><rect x="344.81" y="440.12" width="10.5" height="60.52" fill="#0DB0E6"/><rect x="344.81" y="500.64" width="10.5" height="22.76" fill="#FF7500"/><text transform="translate(354.06,532.00) scale(1.06,1) rotate(-45)" text-anchor="end" style="font-size:9.0px" >Nd</text><rect x="358.89" y="384.60" width="10.5" height="55.24" fill="#A6D35C"/><rect x="358.89" y="439.84" width="10.5" height="67.73" fill="#0DB0E6"/><rect x="358.89" y="507.58" width="10.5" height="15.82" fill="#FF7500"/><text transform="translate(369.84,529.60) scale(1.06,1) rotate(-45)" text-anchor="end" style="font-size:9.0px" >Sm</text><rect x="372.96" y="384.60" width="10.5" height="37.20" fill="#A6D35C"/><rect x="372.96" y="421.80" width="10.5" height="74.54" fill="#0DB0E6"/><rect x="372.96" y="496.33" width="10.5" height="27.07" fill="#FF7500"/><text transform="translate(383.41,529.10) scale(1.06,1) rotate(-45)" text-anchor="end" style="font-size:9.0px" >Eu</text><rect x="387.04" y="384.60" width="10.5" height="29.29" fill="#A6D35C"/><rect x="387.04" y="413.89" width="10.5" height="89.53" fill="#0DB0E6"/><rect x="387.04" y="503.41" width="10.5" height="19.99" fill="#FF7500"/><text transform="translate(398.29,531.10) scale(1.06,1) rotate(-45)" text-anchor="end" style="font-size:9.0px" >Gd</text><rect x="401.11" y="384.60" width="10.5" height="25.12" fill="#A6D35C"/><rect x="401.11" y="409.72" width="10.5" height="104.38" fill="#0DB0E6"/><rect x="401.11" y="514.10" width="10.5" height="9.30" fill="#FF7500"/><text transform="translate(413.26,530.00) scale(1.06,1) rotate(-45)" text-anchor="end" style="font-size:9.0px" >Tb</text><rect x="415.19" y="384.60" width="10.5" height="10.97" fill="#A6D35C"/><rect x="415.19" y="395.57" width="10.5" height="120.48" fill="#0DB0E6"/><rect x="415.19" y="516.04" width="10.5" height="7.36" fill="#FF7500"/><text transform="translate(426.14,529.60) scale(1.06,1) rotate(-45)" text-anchor="end" style="font-size:9.0px" >Dy</text><rect x="429.26" y="384.60" width="10.5" height="5.97" fill="#A6D35C"/><rect x="429.26" y="390.57" width="10.5" height="116.45" fill="#0DB0E6"/><rect x="429.26" y="507.02" width="10.5" height="16.38" fill="#FF7500"/><text transform="translate(439.71,531.10) scale(1.06,1) rotate(-45)" text-anchor="end" style="font-size:9.0px" >Y</text><rect x="443.34" y="384.60" width="10.5" height="6.52" fill="#A6D35C"/><rect x="443.34" y="391.12" width="10.5" height="124.92" fill="#0DB0E6"/><rect x="443.34" y="516.04" width="10.5" height="7.36" fill="#FF7500"/><text transform="translate(454.39,529.00) scale(1.06,1) rotate(-45)" text-anchor="end" style="font-size:9.0px" >Ho</text><rect x="457.41" y="384.60" width="10.5" height="5.00" fill="#A6D35C"/><rect x="457.41" y="389.60" width="10.5" height="127.00" fill="#0DB0E6"/><rect x="457.41" y="516.60" width="10.5" height="6.80" fill="#FF7500"/><text transform="translate(467.96,529.90) scale(1.06,1) rotate(-45)" text-anchor="end" style="font-size:9.0px" >Er</text><rect x="471.49" y="384.60" width="10.5" height="2.78" fill="#A6D35C"/><rect x="471.49" y="387.38" width="10.5" height="130.61" fill="#0DB0E6"/><rect x="471.49" y="517.99" width="10.5" height="5.41" fill="#FF7500"/><text transform="translate(482.54,528.60) scale(1.06,1) rotate(-45)" text-anchor="end" style="font-size:9.0px" >Tm</text><rect x="485.56" y="384.60" width="10.5" height="2.78" fill="#A6D35C"/><rect x="485.56" y="387.38" width="10.5" height="131.30" fill="#0DB0E6"/><rect x="485.56" y="518.68" width="10.5" height="4.72" fill="#FF7500"/><text transform="translate(496.31,530.00) scale(1.06,1) rotate(-45)" text-anchor="end" style="font-size:9.0px" >Yb</text><rect x="499.64" y="384.60" width="10.5" height="2.50" fill="#A6D35C"/><rect x="499.64" y="387.10" width="10.5" height="131.17" fill="#0DB0E6"/><rect x="499.64" y="518.26" width="10.5" height="5.14" fill="#FF7500"/><text transform="translate(508.69,529.30) scale(1.06,1) rotate(-45)" text-anchor="end" style="font-size:9.0px" >Lu</text><rect x="513.71" y="384.60" width="10.5" height="32.34" fill="#A6D35C"/><rect x="513.71" y="416.94" width="10.5" height="75.23" fill="#0DB0E6"/><rect x="513.71" y="492.17" width="10.5" height="31.23" fill="#FF7500"/><text transform="translate(526.16,531.60) scale(1.06,1) rotate(-45)" text-anchor="end" style="font-size:9.0px" >ΣREY</text><text transform="translate(296.80,527.60) scale(1.11,1)" text-anchor="end" style="font-size:10.0px" >0</text><text transform="translate(296.80,499.84) scale(1.11,1)" text-anchor="end" style="font-size:10.0px" >20</text><text transform="translate(296.80,472.08) scale(1.11,1)" text-anchor="end" style="font-size:10.0px" >40</text><text transform="translate(296.80,444.32) scale(1.11,1)" text-anchor="end" style="font-size:10.0px" >60</text><text transform="translate(296.80,416.56) scale(1.11,1)" text-anchor="end" style="font-size:10.0px" >80</text><text transform="translate(296.80,388.80) scale(1.11,1)" text-anchor="end" style="font-size:10.0px" >100</text><path d="M298.60,523.40H300.8 M299.60,509.52H300.8 M298.60,495.64H300.8 M299.60,481.76H300.8 M298.60,467.88H300.8 M299.60,454.00H300.8 M298.60,440.12H300.8 M299.60,426.24H300.8 M298.60,412.36H300.8 M299.60,398.48H300.8 M298.60,384.60H300.8 M314.88,523.4000000000001v1.5 M328.95,523.4000000000001v1.5 M343.02,523.4000000000001v1.5 M357.10,523.4000000000001v1.5 M371.18,523.4000000000001v1.5 M385.25,523.4000000000001v1.5 M399.32,523.4000000000001v1.5 M413.40,523.4000000000001v1.5 M427.48,523.4000000000001v1.5 M441.55,523.4000000000001v1.5 M455.62,523.4000000000001v1.5 M469.70,523.4000000000001v1.5 M483.77,523.4000000000001v1.5 M497.85,523.4000000000001v1.5 M511.93,523.4000000000001v1.5" stroke="#3c3c3c" stroke-width="0.8" fill="none"/><text transform="translate(318.30,381.10) scale(1.114,1)" text-anchor="start" style="font-size:10.1px" id="tf" xml:space="preserve">f.  MP4SD24-1 (West Pacific)</text><text transform="translate(280.90,455.80) scale(1.06,1) rotate(-90)" text-anchor="middle" style="font-size:11.2px" >Leached %</text></g>
</svg></body></html>
